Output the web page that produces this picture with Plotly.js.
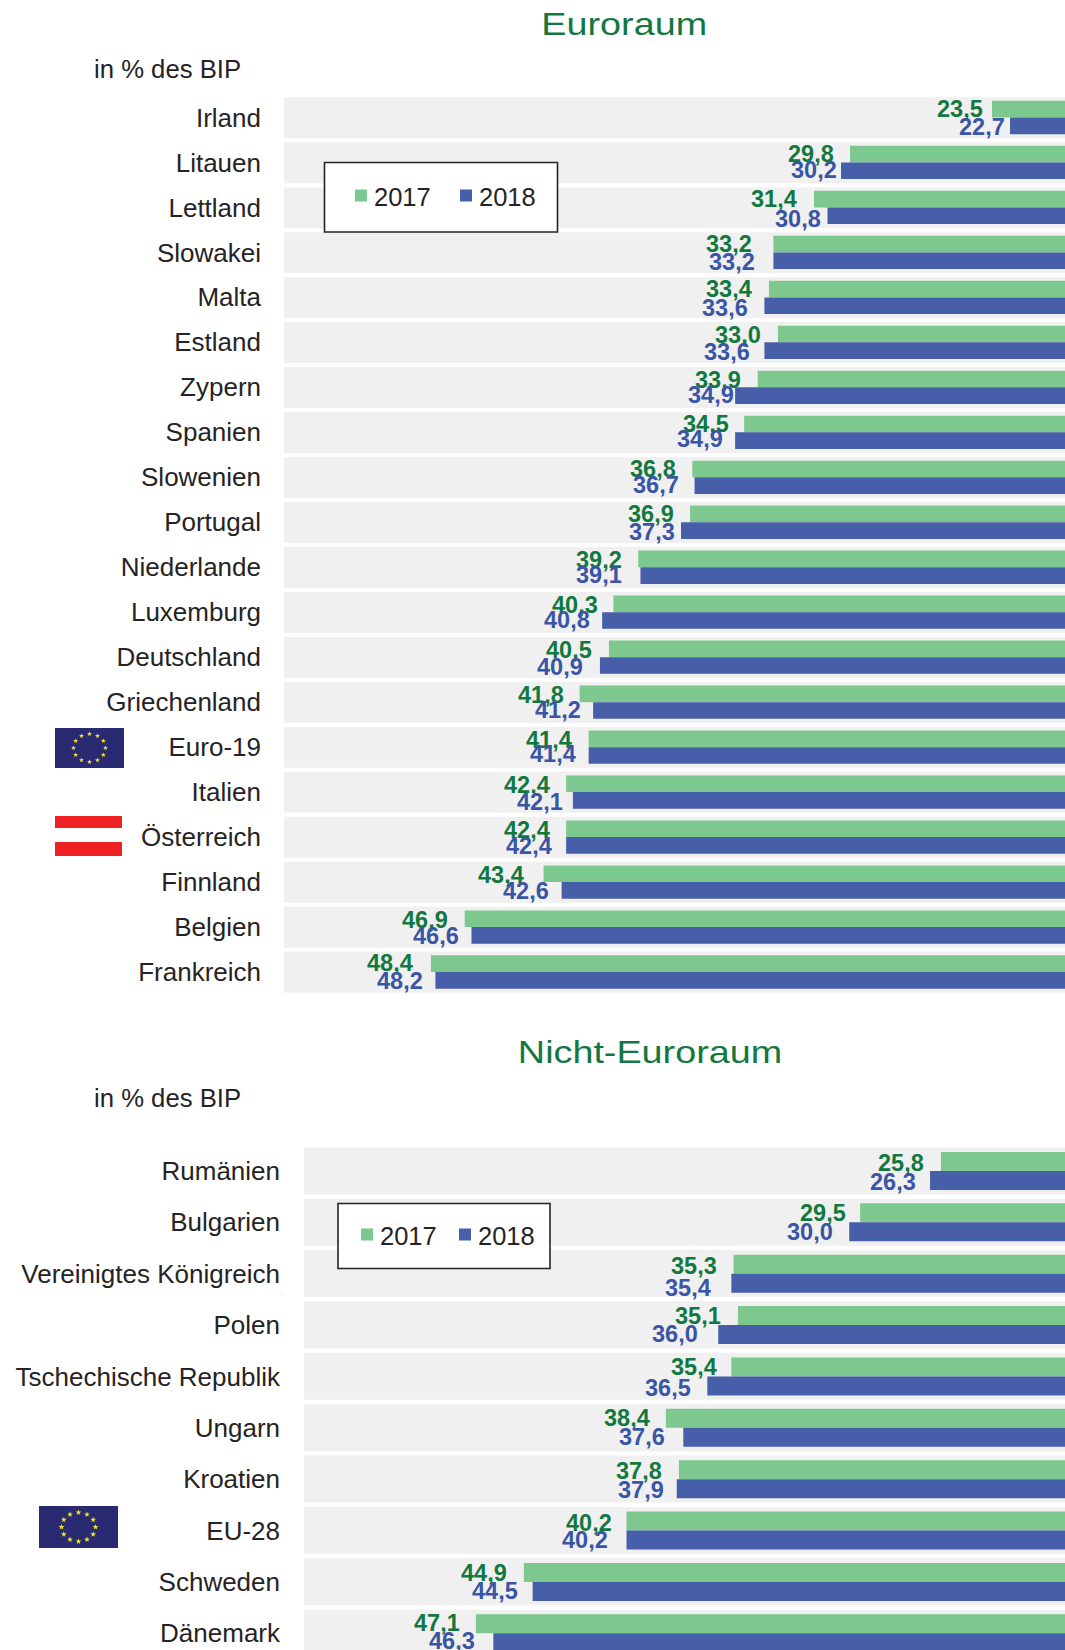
<!DOCTYPE html>
<html lang="de">
<head>
<meta charset="utf-8">
<title>Euroraum und Nicht-Euroraum, in % des BIP</title>
<script src="https://cdn.plot.ly/plotly-3.0.1.min.js"></script>
<style>
  html, body { margin: 0; padding: 0; width: 1065px; height: 1650px; overflow: hidden; background: #fff; }
  #chart { width: 1065px; height: 1665px; }
  /* Section headings are set in a widened face */
  .annotation[data-index="0"] text, .annotation[data-index="1"] text {
    transform-box: fill-box; transform-origin: center; transform: scaleX(1.18);
  }
  /* Swatches sit close to their legend text */
  .legend .legendsymbols, .legend2 .legendsymbols { transform: translateX(7px); }
</style>
</head>
<body>
<div id="chart"></div>
<script>
// Euroraum
const categoriesEuro = ["Irland","Litauen","Lettland","Slowakei","Malta","Estland","Zypern","Spanien","Slowenien","Portugal","Niederlande","Luxemburg","Deutschland","Griechenland","Euro-19","Italien","Österreich","Finnland","Belgien","Frankreich"];
const euro2017 = [23.5,29.8,31.4,33.2,33.4,33.0,33.9,34.5,36.8,36.9,39.2,40.3,40.5,41.8,41.4,42.4,42.4,43.4,46.9,48.4];
const euro2018 = [22.7,30.2,30.8,33.2,33.6,33.6,34.9,34.9,36.7,37.3,39.1,40.8,40.9,41.2,41.4,42.1,42.4,42.6,46.6,48.2];

// Nicht-Euroraum
const categoriesOther = ["Rumänien","Bulgarien","Vereinigtes Königreich","Polen","Tschechische Republik","Ungarn","Kroatien","EU-28","Schweden","Dänemark"];
const other2017 = [25.8,29.5,35.3,35.1,35.4,38.4,37.8,40.2,44.9,47.1];
const other2018 = [26.3,30.0,35.4,36.0,36.5,37.6,37.9,40.2,44.5,46.3];

// Hand placement of the value labels: distance from the bar end and from the row centre, in px
const euroGap2017 = [7.5,15.5,15.5,20.5,15.5,15.5,15.5,14.5,15.5,15.5,15.5,14,15.5,14.5,15.5,15.5,15.5,18.5,15.5,16.5];
const euroGap2018 = [4.5,3.5,5.5,17.5,15.5,13.5,0,11.5,14.5,5.5,17.5,11.5,15.5,11.5,11.5,9,13.5,11.5,11.5,11.5];
const euroDy2017 = [-8,-8,-8,-8,-8,-7,-7,-8,-8,-8,-7,-7,-7,-7,-7,-7,-7,-7,-7,-9];
const euroDy2018 = [10,8,12,10,11,10,8,7,8,10,8,8,10,8,7,10,9,9,9,9];
const otherGap2017 = [15.5,13.5,15.5,15.5,13.5,15,15.5,13.5,15.5,15];
const otherGap2018 = [13.5,15.5,19.5,19.5,15.5,17,11.5,17.5,13.5,17];
const otherDy2017 = [-8,-9,-8,-9,-9,-10,-8,-8,-9,-10];
const otherDy2018 = [11,10,14,9,12,9,11,9,9,8];

const W = 1065, H = 1665;
const px = v => v / W;
const py = v => 1 - v / H;

const GREEN = "#7DC88F", BLUE = "#475EA8";
const GREEN_TEXT = "#127840", BLUE_TEXT = "#3A55A6", INK = "#262324", BAND = "#F0F0F0";
const FONT = "Liberation Sans, Arial, sans-serif";

const comma = v => v.toFixed(1).replace(".", ",");

function barTrace(name, cats, vals, color, xa, ya, legendId) {
  return {
    type: "bar", orientation: "h", name: name, x: vals, y: cats,
    xaxis: xa, yaxis: ya, legend: legendId,
    marker: { color: color, line: { width: 0 } },
    hoverinfo: "skip"
  };
}

const traces = [
  barTrace("2017", categoriesEuro, euro2017, GREEN, "x", "y", "legend"),
  barTrace("2018", categoriesEuro, euro2018, BLUE, "x", "y", "legend"),
  barTrace("2017", categoriesOther, other2017, GREEN, "x2", "y2", "legend2"),
  barTrace("2018", categoriesOther, other2018, BLUE, "x2", "y2", "legend2")
];

function note(text, x, y, size, color, anchor) {
  return { text: text, x: px(x), y: py(y), xref: "paper", yref: "paper", xanchor: anchor, yanchor: "middle",
           showarrow: false, borderpad: 0, font: { family: FONT, size: size, color: color } };
}

const annotations = [
  note("Euroraum", 624.7, 24, 32, GREEN_TEXT, "center"),
  note("Nicht-Euroraum", 650, 1052, 32, GREEN_TEXT, "center"),
  note("in % des BIP", 93, 69, 25.7, INK, "left"),
  note("in % des BIP", 93, 1098, 25.7, INK, "left")
];

function valueLabels(cats, vals, gaps, dys, color, xa, ya) {
  cats.forEach((c, i) => annotations.push({
    text: comma(vals[i]), x: vals[i], y: c, xref: xa, yref: ya,
    xanchor: "right", yanchor: "middle", xshift: -gaps[i], yshift: -dys[i],
    showarrow: false, borderpad: 0,
    font: { family: FONT, size: 23.5, color: color, weight: 700 }
  }));
}
valueLabels(categoriesEuro, euro2017, euroGap2017, euroDy2017, GREEN_TEXT, "x", "y");
valueLabels(categoriesEuro, euro2018, euroGap2018, euroDy2018, BLUE_TEXT, "x", "y");
valueLabels(categoriesOther, other2017, otherGap2017, otherDy2017, GREEN_TEXT, "x2", "y2");
valueLabels(categoriesOther, other2018, otherGap2018, otherDy2018, BLUE_TEXT, "x2", "y2");

// Light row bands behind the bars
const shapes = [];
categoriesEuro.forEach((c, i) => shapes.push({ type: "rect", layer: "below", xref: "x domain", yref: "y",
  x0: 0, x1: 1, y0: i - 0.45, y1: i + 0.46, fillcolor: BAND, line: { width: 0 } }));
categoriesOther.forEach((c, i) => shapes.push({ type: "rect", layer: "below", xref: "x2 domain", yref: "y2",
  x0: 0, x1: 1, y0: i - 0.46, y1: i + 0.455, fillcolor: BAND, line: { width: 0 } }));

// Legend frames
function frame(x0, x1, y0, y1) {
  shapes.push({ type: "rect", layer: "above", xref: "paper", yref: "paper",
    x0: px(x0), x1: px(x1), y0: py(y1), y1: py(y0), fillcolor: "#FFFFFF", line: { color: "#262324", width: 1.6 } });
}
frame(324.5, 557.5, 162.5, 232);
frame(338, 550, 1203.5, 1268.5);

// Austrian flag
function paperRect(x0, x1, y0, y1, color) {
  shapes.push({ type: "rect", layer: "above", xref: "paper", yref: "paper",
    x0: px(x0), x1: px(x1), y0: py(y1), y1: py(y0), fillcolor: color, line: { width: 0 } });
}
paperRect(55, 122, 816, 828, "#EE2224");
paperRect(55, 122, 842, 856, "#EE2224");

// European flag, twelve stars on a ring
function euFlag(w, h, ringX, ringY, starR) {
  let stars = "";
  for (let k = 0; k < 12; k++) {
    const a = k * Math.PI / 6;
    const cx = w / 2 + ringX * Math.sin(a), cy = h / 2 - ringY * Math.cos(a);
    let pts = [];
    for (let j = 0; j < 10; j++) {
      const r = j % 2 ? starR * 0.42 : starR, b = j * Math.PI / 5;
      pts.push((cx + r * Math.sin(b)).toFixed(2) + "," + (cy - r * Math.cos(b)).toFixed(2));
    }
    stars += '<polygon fill="#F2E21E" points="' + pts.join(" ") + '"/>';
  }
  const svg = '<svg xmlns="http://www.w3.org/2000/svg" width="' + w + '" height="' + h + '" viewBox="0 0 ' + w + ' ' + h + '">' +
    '<rect width="' + w + '" height="' + h + '" fill="#2A2A72"/>' + stars + '</svg>';
  return "data:image/svg+xml;base64," + btoa(svg);
}
function flagImage(x0, x1, y0, y1, ringX, ringY, starR) {
  return { source: euFlag(x1 - x0, y1 - y0, ringX, ringY, starR), xref: "paper", yref: "paper",
    x: px(x0), y: py(y0), sizex: (x1 - x0) / W, sizey: (y1 - y0) / H,
    xanchor: "left", yanchor: "top", sizing: "stretch", layer: "above" };
}
const images = [
  flagImage(55, 124, 728, 768, 16, 14, 2.6),
  flagImage(39, 118, 1506, 1548, 17, 14.5, 3)
];

function hiddenX(domainLeft, range, anchor) {
  return { domain: [px(domainLeft), 1], range: range, anchor: anchor, visible: false, fixedrange: true };
}
function categoryY(cats, top, bottom, anchor, standoff, fontSize) {
  return {
    type: "category", categoryorder: "array", categoryarray: cats,
    domain: [py(bottom), py(top)], range: [cats.length - 0.5, -0.5], anchor: anchor,
    showgrid: false, zeroline: false, showline: false, ticks: "", ticklabelstandoff: standoff,
    tickfont: { family: FONT, size: fontSize, color: INK }, fixedrange: true
  };
}
function legendAt(x, y, entry) {
  return { orientation: "h", x: px(x), y: py(y), xanchor: "left", yanchor: "middle",
    bgcolor: "rgba(0,0,0,0)", borderwidth: 0, entrywidth: entry, entrywidthmode: "pixels",
    font: { family: FONT, size: 25.5, color: INK }, itemclick: false, itemdoubleclick: false };
}

const layout = {
  width: W, height: H, autosize: false,
  margin: { l: 0, r: 0, t: 0, b: 0 },
  paper_bgcolor: "#FFFFFF", plot_bgcolor: "rgba(0,0,0,0)",
  font: { family: FONT },
  barmode: "group", bargap: 0.26, bargroupgap: 0,
  showlegend: true,
  xaxis: hiddenX(284, [54.92, 20.26], "y"),
  yaxis: categoryY(categoriesEuro, 95, 994.5, "x", 22, 26),
  xaxis2: hiddenX(304, [54.97, 20.12], "y2"),
  yaxis2: categoryY(categoriesOther, 1145.3, 1659, "x2", 23, 26),
  legend: legendAt(334, 196, 60),
  legend2: legendAt(340, 1235, 53),
  annotations: annotations,
  shapes: shapes,
  images: images
};

Plotly.newPlot("chart", traces, layout, { displayModeBar: false, staticPlot: true, responsive: false });
</script>
</body>
</html>
